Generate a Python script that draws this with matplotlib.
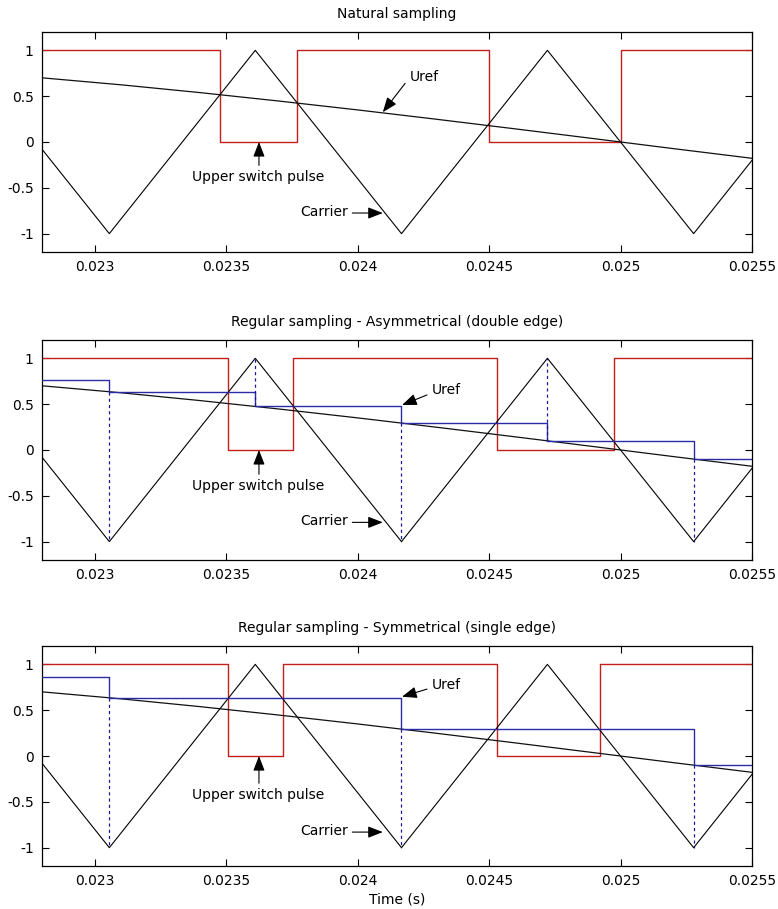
import matplotlib
matplotlib.use("Agg")
import matplotlib.pyplot as plt
from matplotlib.ticker import FixedLocator, FixedFormatter

plt.rcParams['font.family'] = ['DejaVu Sans']

# ---------------- data ----------------
# carrier triangle vertices (time, value)
carrier_t = [0.0225, 0.023056, 0.023611, 0.024167, 0.024722, 0.025278, 0.025833]
carrier_v = [1, -1, 1, -1, 1, -1, 1]

# reference (Uref)
uref_t = [0.0228, 0.0231, 0.0234, 0.0237, 0.0240, 0.0243, 0.0246, 0.0249, 0.0252, 0.0255]
uref_v = [0.700, 0.624, 0.539, 0.447, 0.350, 0.248, 0.143, 0.036, -0.072, -0.178]

# natural sampling pulse edges
nat_t = [0.0228, 0.023475, 0.023769, 0.024498, 0.025003, 0.0255]
nat_v = [1, 0, 1, 0, 1]

# asymmetrical regular sampling (samples at every carrier vertex)
asym_t = [0.0228, 0.023056, 0.023611, 0.024167, 0.024722, 0.025278, 0.0255]
asym_v = [0.761, 0.636, 0.475, 0.294, 0.099, -0.099]
asym_pulse_t = [0.0228, 0.023509, 0.023756, 0.024530, 0.024975, 0.0255]
asym_pulse_v = [1, 0, 1, 0, 1]

# symmetrical regular sampling (samples at carrier troughs only)
sym_t = [0.0228, 0.023056, 0.024167, 0.025278, 0.0255]
sym_v = [0.858, 0.636, 0.290, -0.100]
sym_pulse_t = [0.0228, 0.023509, 0.023715, 0.024530, 0.024922, 0.0255]
sym_pulse_v = [1, 0, 1, 0, 1]

titles = ["Natural sampling",
          "Regular sampling - Asymmetrical (double edge)",
          "Regular sampling - Symmetrical (single edge)"]
xticks = [0.023, 0.0235, 0.024, 0.0245, 0.025, 0.0255]
xtick_labels = ["0.023", "0.0235", "0.024", "0.0245", "0.025", "0.0255"]
yticks = [-1, -0.5, 0, 0.5, 1]
ytick_labels = ["-1", "-0.5", "0", "0.5", "1"]

RED = "#C41E1E"
BLUE = "#2B2BA8"
FS = 10

fig = plt.figure(figsize=(7.78, 9.09), dpi=100)
left, width = 0.054, 0.9126
bottoms = [0.7228, 0.384, 0.0473]
height = 0.2420
axes = [fig.add_axes([left, b, width, height]) for b in bottoms]

arrow_kw = dict(arrowstyle="-|>,head_length=0.9,head_width=0.35", color="k", lw=0.8,
                shrinkA=0, shrinkB=0)


def carrier_value(tt):
    best = min(range(len(carrier_t)), key=lambda i: abs(carrier_t[i] - tt))
    return carrier_v[best]


pulse_sets = [(nat_t, nat_v), (asym_pulse_t, asym_pulse_v), (sym_pulse_t, sym_pulse_v)]
samp_sets = [None, (asym_t, asym_v), (sym_t, sym_v)]

annots = [
    dict(uref_txt=(0.02420, 0.705), uref_from=(0.024181, 0.64), uref_tip=(0.024096, 0.325),
         usp_txt=(0.023620, -0.385), usp_tip=(0.023625, 0.0),
         car_txt=(0.023965, -0.765), car_tip=(0.024096, -0.775)),
    dict(uref_txt=(0.024283, 0.657), uref_from=(0.024264, 0.60), uref_tip=(0.024169, 0.49),
         usp_txt=(0.023620, -0.395), usp_tip=(0.023625, 0.0),
         car_txt=(0.023965, -0.78), car_tip=(0.024096, -0.79)),
    dict(uref_txt=(0.024283, 0.78), uref_from=(0.024264, 0.73), uref_tip=(0.024169, 0.647),
         usp_txt=(0.023620, -0.427), usp_tip=(0.023625, 0.0),
         car_txt=(0.023965, -0.82), car_tip=(0.024096, -0.83)),
]

for k, ax in enumerate(axes):
    # pulse
    pt, pv = pulse_sets[k]
    xs, ys = [], []
    for i, val in enumerate(pv):
        xs += [pt[i], pt[i + 1]]
        ys += [val, val]
    ax.plot(xs, ys, color=RED, lw=1.0, zorder=2)
    # carrier
    ax.plot(carrier_t, carrier_v, color="k", lw=0.8, zorder=3)
    # reference
    ax.plot(uref_t, uref_v, color="#111111", lw=0.9, zorder=3)
    # sampled reference
    if samp_sets[k] is not None:
        st, sv = samp_sets[k]
        xs, ys = [], []
        for i, val in enumerate(sv):
            xs += [st[i], st[i + 1]]
            ys += [val, val]
        ax.plot(xs, ys, color=BLUE, lw=1.0, zorder=4)
        for i in range(1, len(sv)):
            tt = st[i]
            cv = carrier_value(tt)
            ax.plot([tt, tt], [sv[i], cv], color="#1A1A90", lw=0.9, ls=(0, (2.5, 2.5)), zorder=4)

    a = annots[k]
    ax.annotate("", xy=a["uref_tip"], xytext=a["uref_from"], arrowprops=arrow_kw, zorder=6)
    ax.text(a["uref_txt"][0], a["uref_txt"][1], "Uref", fontsize=FS, va="center", ha="left")
    ax.annotate("", xy=a["usp_tip"], xytext=(a["usp_tip"][0], a["usp_txt"][1] + 0.13),
                arrowprops=arrow_kw, zorder=6)
    ax.text(a["usp_txt"][0], a["usp_txt"][1], "Upper switch pulse", fontsize=FS,
            va="center", ha="center")
    ax.annotate("", xy=a["car_tip"], xytext=(a["car_txt"][0] + 0.000015, a["car_tip"][1]),
                arrowprops=arrow_kw, zorder=6)
    ax.text(a["car_txt"][0], a["car_txt"][1], "Carrier", fontsize=FS, va="center", ha="right")

    ax.set_xlim(0.0228, 0.0255)
    ax.set_ylim(-1.2, 1.2)
    ax.xaxis.set_major_locator(FixedLocator(xticks))
    ax.xaxis.set_major_formatter(FixedFormatter(xtick_labels))
    ax.yaxis.set_major_locator(FixedLocator(yticks))
    ax.yaxis.set_major_formatter(FixedFormatter(ytick_labels))
    ax.tick_params(direction="in", top=True, right=True, length=5, width=0.8,
                   labelsize=FS, pad=6)
    for s in ax.spines.values():
        s.set_linewidth(0.9)
    ax.set_title(titles[k], fontsize=FS, pad=10)

axes[2].set_xlabel("Time (s)", fontsize=FS, labelpad=3)

fig.savefig("out.png", dpi=100)
